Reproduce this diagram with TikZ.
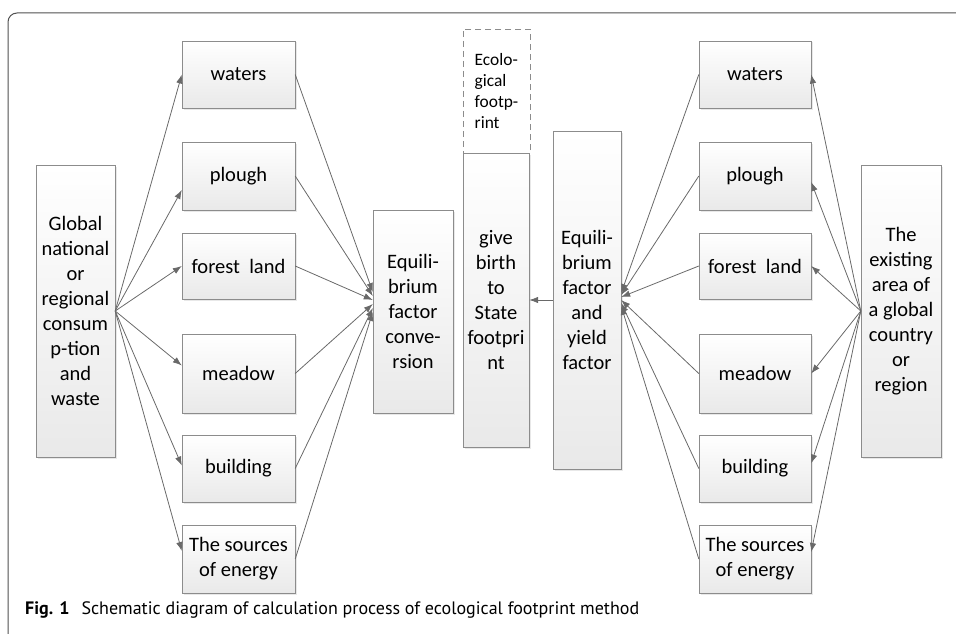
\documentclass[tikz,border=0pt]{standalone}
\usepackage{fontspec}
\setmainfont{Carlito}
\newfontfamily\capfont{PT Sans}
\usetikzlibrary{arrows.meta, shadows}

\definecolor{boxline}{RGB}{140,140,140}
\definecolor{boxshade}{RGB}{233,233,233}
\definecolor{arrowgray}{RGB}{105,105,105}
\definecolor{framegray}{RGB}{80,80,80}

\tikzset{
  box/.style={draw=boxline, top color=white, bottom color=boxshade, inner sep=0pt,
    align=center, font=\fontsize{20.5}{25}\selectfont,
    drop shadow={shadow xshift=1.5pt, shadow yshift=-1.5pt, opacity=0.18}},
  landbox/.style={box, minimum width=113pt, minimum height=67pt},
  arr/.style={-{Latex[length=9pt,width=6.5pt]}, arrowgray, line width=0.8pt},
}

\begin{document}
\begin{tikzpicture}[x=1pt, y=-1pt]
        \useasboundingbox (0,0) rectangle (956,634);
        \draw[framegray, line width=1pt, rounded corners=9pt] (8,634) -- (8,13) -- (956,13);
        % left half
        \node[box, minimum width=79pt, minimum height=292pt] (world) at (75.5,311)
          {Global\\national\\or\\regional\\consum\\p-tion\\and\\waste};
        \node[landbox] (watersL)   at (238.5,74.5)  {waters};
        \node[landbox, minimum height=68pt] (ploughL) at (238.5,176) {plough};
        \node[landbox, minimum height=66pt] (forestL) at (238.5,266) {forest\ \ land};
        \node[landbox, minimum height=79pt] (meadowL) at (238.5,373.5) {meadow};
        \node[landbox] (buildingL) at (238.5,468.5) {building};
        \node[landbox, minimum height=68pt] (energyL) at (238.5,559) {The sources\\of energy};
        \node[box, minimum width=80pt, minimum height=203pt] (conv) at (413,311.5)
          {Equili-\\brium\\factor\\conve-\\rsion};
        % middle
        \node[box, minimum width=66pt, minimum height=294pt] (birth) at (496,300)
          {give\\birth\\to\\State\\footpri\\nt};
        \node[draw=boxline, dashed, dash pattern=on 6pt off 4pt, minimum width=67pt,
          minimum height=124pt, inner sep=0pt, align=left,
          font=\fontsize{17.4}{21}\selectfont] (eco) at (496.5,91)
          {Ecolo-\\gical\\footp-\\rint};
        \node[box, minimum width=68pt, minimum height=338pt] (yield) at (587,300)
          {Equili-\\brium\\factor\\and\\yield\\factor};
        % right half
        \node[landbox, minimum width=112pt] (watersR)   at (755,74.5)  {waters};
        \node[landbox, minimum width=112pt, minimum height=68pt] (ploughR) at (755,176) {plough};
        \node[landbox, minimum width=112pt, minimum height=66pt] (forestR) at (755,266) {forest\ \ land};
        \node[landbox, minimum width=112pt, minimum height=79pt] (meadowR) at (755,373.5) {meadow};
        \node[landbox, minimum width=112pt] (buildingR) at (755,468.5) {building};
        \node[landbox, minimum width=112pt, minimum height=68pt] (energyR) at (755,559) {The sources\\of energy};
        \node[box, minimum width=80pt, minimum height=292pt] (region) at (901,311)
          {The\\existing\\area of\\a global\\country\\or\\region};
        % arrows, left
        \draw[arr] (world.east) -- (watersL.west);
        \draw[arr] (world.east) -- ([yshift=-14pt]ploughL.west);
        \draw[arr] (world.east) -- (forestL.west);
        \draw[arr] (world.east) -- ([yshift=8pt]meadowL.west);
        \draw[arr] (world.east) -- ([yshift=3pt]buildingL.west);
        \draw[arr] (world.east) -- ([yshift=8pt]energyL.west);
        \draw[arr] (watersL.east)   -- ([yshift=19.5pt]conv.west);
        \draw[arr] (ploughL.east)   -- ([yshift=15.5pt]conv.west);
        \draw[arr] (forestL.east)   -- ([yshift=11.5pt]conv.west);
        \draw[arr] (meadowL.east)   -- ([yshift=7.5pt]conv.west);
        \draw[arr] (buildingL.east) -- ([yshift=3.5pt]conv.west);
        \draw[arr] (energyL.east)   -- ([yshift=-0.5pt]conv.west);
        % arrows, right
        \draw[arr] (region.west) -- (watersR.east);
        \draw[arr] (region.west) -- ([yshift=-6pt]ploughR.east);
        \draw[arr] (region.west) -- (forestR.east);
        \draw[arr] (region.west) -- (meadowR.east);
        \draw[arr] (region.west) -- ([yshift=5pt]buildingR.east);
        \draw[arr] (region.west) -- ([yshift=7pt]energyR.east);
        \draw[arr] (watersR.west)   -- ([yshift=7pt]yield.east);
        \draw[arr] (ploughR.west)   -- ([yshift=5pt]yield.east);
        \draw[arr] (forestR.west)   -- ([yshift=3pt]yield.east);
        \draw[arr] (meadowR.west)   -- (yield.east);
        \draw[arr] (buildingR.west) -- ([yshift=-3pt]yield.east);
        \draw[arr] (energyR.west)   -- ([yshift=-6pt]yield.east);
        \draw[arr] (yield.west) -- (birth.east);
        % caption
        \node[anchor=base west, inner sep=0pt, font=\capfont\fontsize{18}{21}\selectfont] (caption) at (25,614)
          {\textbf{Fig. 1}\hspace{12pt}Schematic diagram of calculation process of ecological footprint method};
\end{tikzpicture}
\end{document}
